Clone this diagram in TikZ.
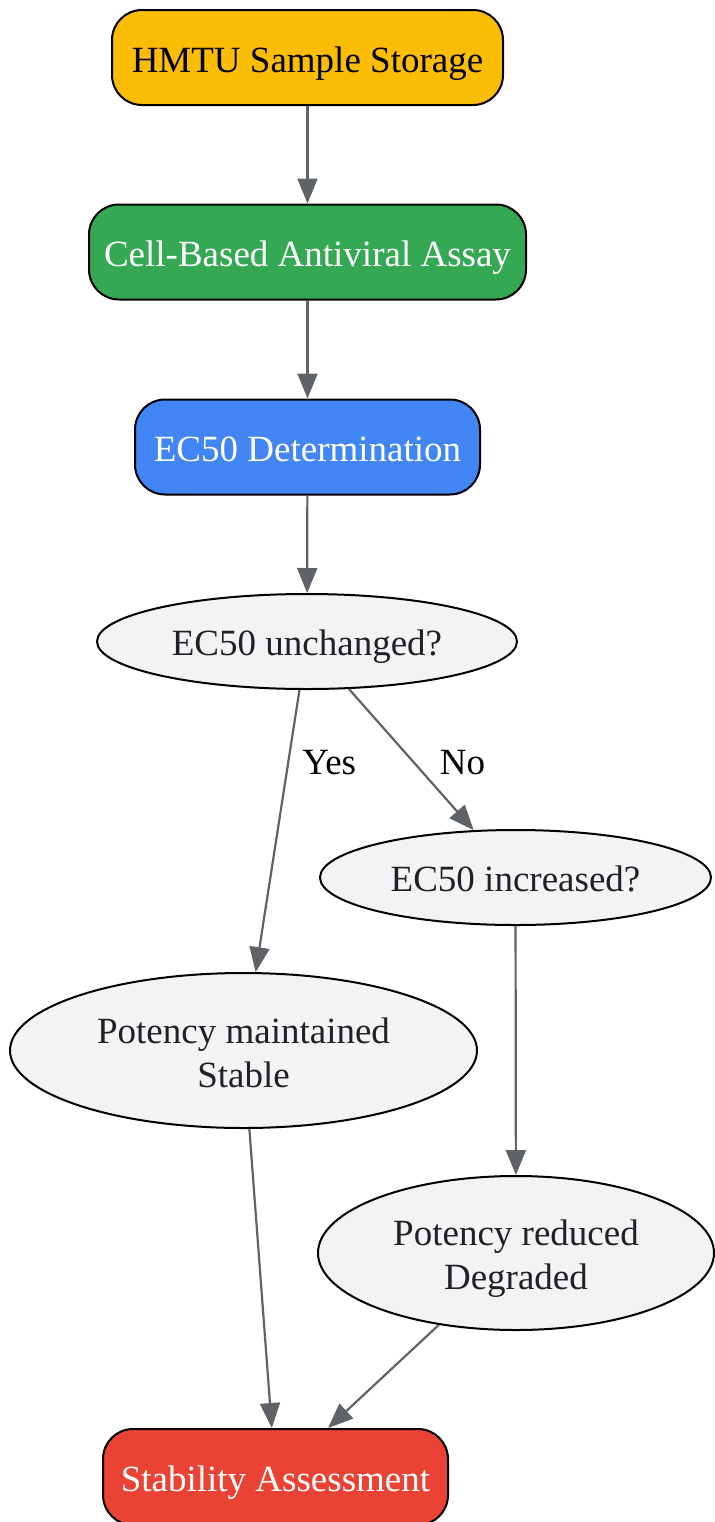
\documentclass[tikz,border=0pt]{standalone}
\usepackage{fontspec}
\setmainfont{Liberation Serif}
\usetikzlibrary{shapes.geometric,arrows.meta}
\definecolor{hmtuyellow}{HTML}{FBBC04}
\definecolor{assaygreen}{HTML}{34A853}
\definecolor{detblue}{HTML}{4285F4}
\definecolor{assessred}{HTML}{EA4335}
\definecolor{askgray}{HTML}{F1F3F4}
\definecolor{edgegray}{HTML}{5F6368}
\definecolor{asktext}{HTML}{202124}
\newcommand{\sunk}[2]{\raisebox{-#1}[\height][\depth]{#2}}
\begin{document}
\begin{tikzpicture}[x=0.5pt,y=-0.5pt,
		stepbox/.style={draw=black,line width=1pt,rounded corners=15pt,inner sep=0pt,minimum height=47.5pt,text height=14.5pt,text depth=0pt,font=\fontsize{18.5}{22}\selectfont},
		askbox/.style={ellipse,draw=black,line width=1pt,fill=askgray,text=asktext,inner sep=0pt,align=center,font=\fontsize{18.5}{22}\selectfont},
		oneline/.style={text height=14pt,text depth=0pt},
		flow/.style={draw=edgegray,line width=1.1pt,-{Triangle[length=12.5pt,width=10pt]}},
		flowlabel/.style={inner sep=0pt,anchor=west,text=black,font=\fontsize{18.5}{22}\selectfont}]
			\useasboundingbox (0,0) rectangle (714,1522);
			\node[stepbox,fill=hmtuyellow,text=black,minimum width=195.5pt] (store) at (307.5,57.5) {HMTU Sample Storage};
			\node[stepbox,fill=assaygreen,text=white,minimum width=218.5pt] (assay) at (307.5,252) {Cell-Based Antiviral Assay};
			\node[stepbox,fill=detblue,text=white,minimum width=172.5pt] (ecdet) at (307.5,447) {EC50 Determination};
			\node[askbox,oneline,minimum width=210pt,minimum height=47.5pt] (unch) at (307,641.5) {EC50 unchanged?};
			\node[askbox,oneline,minimum width=195.5pt,minimum height=47.5pt] (incr) at (515.5,877.5) {EC50 increased?};
			\node[askbox,minimum width=233.5pt,minimum height=77.5pt] (maint) at (243.5,1050.5) {\sunk{1pt}{Potency maintained}\\\sunk{1pt}{Stable}};
			\node[askbox,minimum width=198pt,minimum height=77pt] (reduc) at (516,1253) {\sunk{3pt}{Potency reduced}\\\sunk{3pt}{Degraded}};
			\node[stepbox,fill=assessred,text=white,minimum width=172.5pt,minimum height=48pt] (assess) at (275.5,1477) {Stability Assessment};
			\draw[flow] (store) to (assay);
			\draw[flow] (assay) to (ecdet);
			\draw[flow] (ecdet) to (unch);
			\draw[flow] (unch) to node[flowlabel,pos=0.258,xshift=6.5pt] {Yes} (maint);
			\draw[flow] (unch) to node[flowlabel,pos=0.52,xshift=12.5pt] {No} (incr);
			\draw[flow] (incr) to (reduc);
			\draw[flow] (maint) to (assess);
			\draw[flow] (reduc) to (assess);
		\end{tikzpicture}
\end{document}
